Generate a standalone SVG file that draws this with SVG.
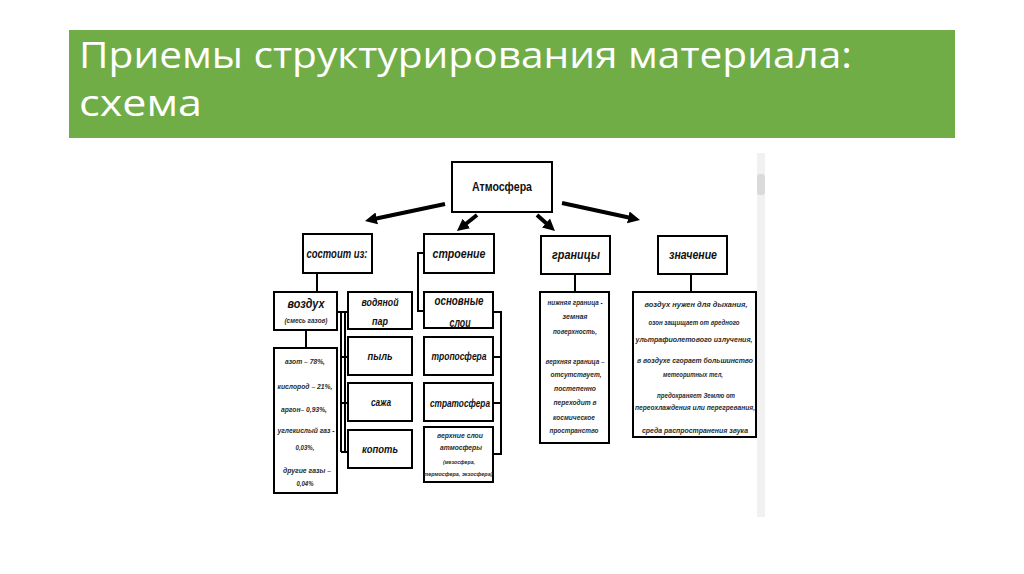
<svg xmlns="http://www.w3.org/2000/svg" width="1024" height="574" viewBox="0 0 1024 574">
<defs>
<style>
.box{fill:#fff;stroke:#000;stroke-width:2}
.ln{fill:none;stroke:#000;stroke-width:2}
.arr{fill:none;stroke:#000;stroke-width:4}
.h{font-family:"Liberation Sans",Arial,sans-serif;font-size:12px;font-weight:bold;font-style:italic;text-anchor:middle;fill:#111}
.t{font-family:"Liberation Sans",Arial,sans-serif;font-size:7.5px;font-weight:bold;font-style:italic;text-anchor:middle;fill:#2a2a2a}
.title{font-family:"Open Sans","Liberation Sans",sans-serif;font-size:37px;fill:#fff}
</style>
<marker id="ah" markerUnits="userSpaceOnUse" markerWidth="13" markerHeight="13" refX="4" refY="6" orient="auto" viewBox="0 0 13 12">
<path d="M0,0 L12,6 L0,12 z" fill="#000"/>
</marker>
</defs>
<rect width="1024" height="574" fill="#fff"/>
<g id="header">
<rect x="69" y="30" width="886" height="108" fill="#70AD47"/>
<text class="title" x="79" y="68" textLength="773" lengthAdjust="spacingAndGlyphs">Приемы структурирования материала:</text>
<text class="title" x="79" y="116" textLength="123" lengthAdjust="spacingAndGlyphs">схема</text>
</g>
<g id="scrollbar">
<rect x="757" y="153" width="8" height="364" fill="#f1f1f1"/>
<rect x="757" y="174" width="8" height="21" rx="3" fill="#dadada"/>
</g>
<g id="connectors">
<line class="arr" x1="445" y1="204" x2="372.8" y2="219.3" marker-end="url(#ah)"/>
<line class="arr" x1="477" y1="215" x2="463.2" y2="226" marker-end="url(#ah)"/>
<line class="arr" x1="537" y1="215" x2="549" y2="225.7" marker-end="url(#ah)"/>
<line class="arr" x1="562" y1="203" x2="632.2" y2="218.3" marker-end="url(#ah)"/>
<line class="ln" x1="317" y1="273" x2="317" y2="292"/>
<line class="ln" x1="306" y1="330" x2="306" y2="348"/>
<polyline class="ln" points="337,312 345,312 345,452"/>
<line class="ln" x1="341" y1="312" x2="341" y2="452"/>
<line class="ln" x1="345" y1="312" x2="348" y2="312"/>
<line class="ln" x1="341" y1="357" x2="348" y2="357"/>
<line class="ln" x1="341" y1="403" x2="348" y2="403"/>
<line class="ln" x1="341" y1="452" x2="348" y2="452"/>
<polyline class="ln" points="424,253 418,253 418,311 424,311"/>
<polyline class="ln" points="493,312 501,312 501,454 493,454"/>
<line class="ln" x1="493" y1="357" x2="501" y2="357"/>
<line class="ln" x1="493" y1="403" x2="501" y2="403"/>
<line class="ln" x1="575" y1="274" x2="575" y2="292"/>
<line class="ln" x1="691" y1="274" x2="691" y2="292"/>
</g>
<g id="atmosfera">
<rect class="box" x="452" y="162" width="100" height="50"/>
<text class="h" x="502" y="191" style="font-style:normal" textLength="60" lengthAdjust="spacingAndGlyphs">Атмосфера</text>
</g>
<g id="sostoit">
<rect class="box" x="303" y="234" width="69" height="39"/>
<text class="h" x="337" y="258" textLength="61" lengthAdjust="spacingAndGlyphs">состоит из:</text>
</g>
<g id="stroenie">
<rect class="box" x="424" y="234" width="70" height="39"/>
<text class="h" x="459" y="258" textLength="53" lengthAdjust="spacingAndGlyphs">строение</text>
</g>
<g id="granitsy">
<rect class="box" x="541" y="236" width="69" height="38"/>
<text class="h" x="576" y="259" textLength="48" lengthAdjust="spacingAndGlyphs">границы</text>
</g>
<g id="znachenie">
<rect class="box" x="658" y="236" width="69" height="38"/>
<text class="h" x="693" y="259" textLength="48" lengthAdjust="spacingAndGlyphs">значение</text>
</g>
<g id="vozduh">
<rect class="box" x="274" y="292" width="63" height="38"/>
<text class="h" x="306" y="308" textLength="37" lengthAdjust="spacingAndGlyphs">воздух</text>
<text class="t" x="306" y="323" style="font-size:7px" textLength="43" lengthAdjust="spacingAndGlyphs">(смесь газов)</text>
</g>
<g id="sostav">
<rect class="box" x="274" y="348" width="63" height="145"/>
<text class="t" x="305" y="364" textLength="40" lengthAdjust="spacingAndGlyphs">азот – 78%,</text>
<text class="t" x="305" y="389" textLength="55" lengthAdjust="spacingAndGlyphs">кислород – 21%,</text>
<text class="t" x="304" y="412" textLength="46" lengthAdjust="spacingAndGlyphs">аргон– 0,93%,</text>
<text class="t" x="306" y="433" textLength="57" lengthAdjust="spacingAndGlyphs">углекислый газ -</text>
<text class="t" x="305" y="450" textLength="19" lengthAdjust="spacingAndGlyphs">0,03%,</text>
<text class="t" x="307" y="473" textLength="48" lengthAdjust="spacingAndGlyphs">другие газы –</text>
<text class="t" x="305" y="486" textLength="17" lengthAdjust="spacingAndGlyphs">0,04%</text>
</g>
<g id="vodyanoy-par">
<rect class="box" x="348" y="292" width="64" height="37"/>
<text class="h" x="380" y="306" style="font-size:10.5px" textLength="37" lengthAdjust="spacingAndGlyphs">водяной</text>
<text class="h" x="380" y="325" style="font-size:10.5px" textLength="16" lengthAdjust="spacingAndGlyphs">пар</text>
</g>
<g id="pyl">
<rect class="box" x="348" y="337" width="64" height="38"/>
<text class="h" x="380" y="360" style="font-size:10.5px" textLength="25" lengthAdjust="spacingAndGlyphs">пыль</text>
</g>
<g id="sazha">
<rect class="box" x="348" y="383" width="64" height="38"/>
<text class="h" x="381" y="406" style="font-size:10.5px" textLength="20" lengthAdjust="spacingAndGlyphs">сажа</text>
</g>
<g id="kopot">
<rect class="box" x="348" y="430" width="64" height="38"/>
<text class="h" x="380" y="453" style="font-size:10.5px" textLength="36" lengthAdjust="spacingAndGlyphs">копоть</text>
</g>
<g id="osnovnye-sloi">
<rect class="box" x="424" y="292" width="69" height="36"/>
<text class="h" x="459" y="305" textLength="49" lengthAdjust="spacingAndGlyphs">основные</text>
<text class="h" x="460" y="327" textLength="21" lengthAdjust="spacingAndGlyphs">слои</text>
</g>
<g id="troposfera">
<rect class="box" x="424" y="337" width="69" height="38"/>
<text class="h" x="459" y="360" style="font-size:11px" textLength="55" lengthAdjust="spacingAndGlyphs">тропосфера</text>
</g>
<g id="stratosfera">
<rect class="box" x="424" y="383" width="69" height="38"/>
<text class="h" x="460" y="407" style="font-size:11px" textLength="60" lengthAdjust="spacingAndGlyphs">стратосфера</text>
</g>
<g id="verhnie-sloi">
<rect class="box" x="424" y="427" width="69" height="55"/>
<text class="t" x="460" y="438" textLength="46" lengthAdjust="spacingAndGlyphs">верхние слои</text>
<text class="t" x="461" y="450" textLength="42" lengthAdjust="spacingAndGlyphs">атмосферы</text>
<text class="t" x="459" y="464" style="font-size:6px" textLength="32" lengthAdjust="spacingAndGlyphs">(мезосфера,</text>
<text class="t" x="458" y="476" style="font-size:6px" textLength="69" lengthAdjust="spacingAndGlyphs">термосфера, экзосфера)</text>
</g>
<g id="granitsy-text">
<rect class="box" x="540" y="292" width="69" height="151"/>
<text class="t" x="575" y="305" textLength="55" lengthAdjust="spacingAndGlyphs">нижняя граница -</text>
<text class="t" x="575" y="319" textLength="25" lengthAdjust="spacingAndGlyphs">земная</text>
<text class="t" x="575" y="334" textLength="44" lengthAdjust="spacingAndGlyphs">поверхность,</text>
<text class="t" x="575" y="364" textLength="59" lengthAdjust="spacingAndGlyphs">верхняя граница –</text>
<text class="t" x="576" y="377" textLength="51" lengthAdjust="spacingAndGlyphs">отсутствует,</text>
<text class="t" x="575" y="391" textLength="42" lengthAdjust="spacingAndGlyphs">постепенно</text>
<text class="t" x="575" y="405" textLength="43" lengthAdjust="spacingAndGlyphs">переходит в</text>
<text class="t" x="574" y="420" textLength="42" lengthAdjust="spacingAndGlyphs">космическое</text>
<text class="t" x="574" y="433" textLength="49" lengthAdjust="spacingAndGlyphs">пространство</text>
</g>
<g id="znachenie-text">
<rect class="box" x="633" y="292" width="123" height="145"/>
<text class="t" x="696" y="307" textLength="103" lengthAdjust="spacingAndGlyphs">воздух нужен для дыхания,</text>
<text class="t" x="694" y="325" textLength="91" lengthAdjust="spacingAndGlyphs">озон защищает от вредного</text>
<text class="t" x="694" y="342" textLength="117" lengthAdjust="spacingAndGlyphs">ультрафиолетового излучения,</text>
<text class="t" x="695" y="363" textLength="116" lengthAdjust="spacingAndGlyphs">в воздухе сгорает большинство</text>
<text class="t" x="693" y="377" textLength="60" lengthAdjust="spacingAndGlyphs">метеоритных тел,</text>
<text class="t" x="696" y="398" textLength="78" lengthAdjust="spacingAndGlyphs">предохраняет Землю от</text>
<text class="t" x="695" y="410" textLength="120" lengthAdjust="spacingAndGlyphs">переохлаждения или перегревания,</text>
<text class="t" x="695" y="433" textLength="106" lengthAdjust="spacingAndGlyphs">среда распространения звука</text>
</g>
</svg>
